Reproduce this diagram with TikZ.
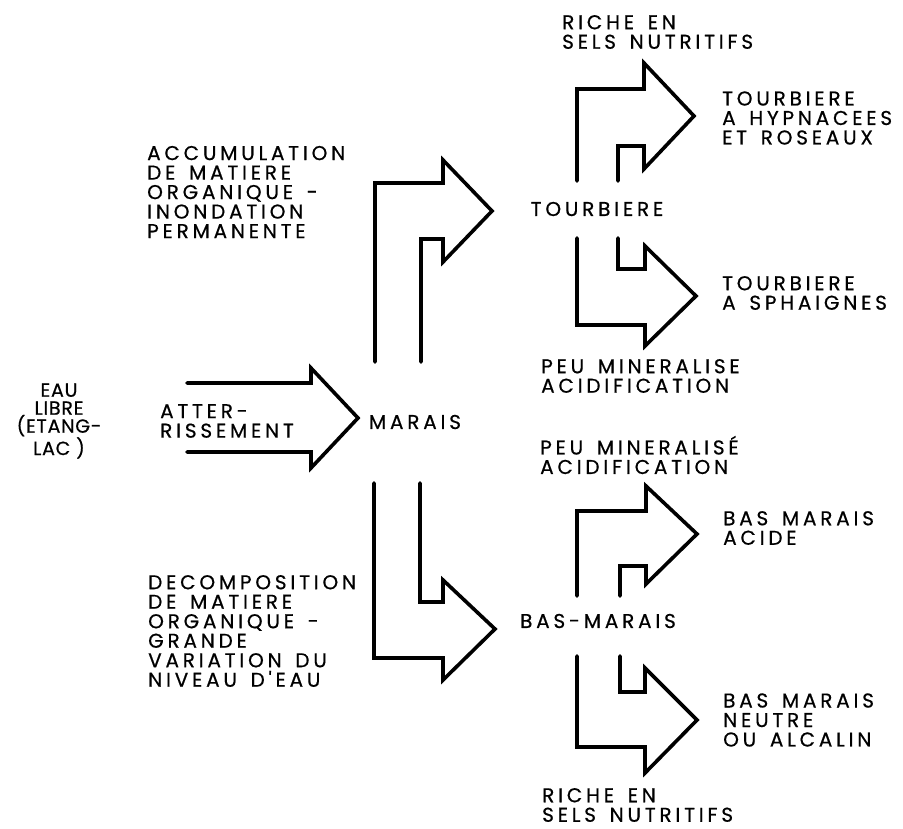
\documentclass[tikz,border=0pt]{standalone}
\usepackage{fontspec}
\usepackage{tikz}
\usetikzlibrary{positioning}
\newfontfamily\lettfont{Poppins}[LetterSpace=19,WordSpace=1.5,FakeBold=0.6]
\newfontfamily\lettnarrow{Poppins}[LetterSpace=4,FakeBold=0.6]
\newcommand{\lettering}{\lettfont\fontsize{20}{19.5}\selectfont}
\newcommand{\narrowlettering}{\lettnarrow\fontsize{19}{18}\selectfont}
\tikzset{
  lbl/.style={font=\lettering,align=left,anchor=west,inner sep=0pt},
  ctr/.style={font=\lettering,align=center,inner sep=0pt},
  fatarrow/.style={line width=3.6pt,line cap=round,line join=miter},
}
\begin{document}
\begin{tikzpicture}[x=1pt,y=-1pt]
    \useasboundingbox (0,0) rectangle (903,828);
    % Start
    \node[ctr,font=\narrowlettering] (eau) at (59,421) {EAU\\LIBRE\\(ETANG-\\LAC )};
    \node[lbl] (atter) at (160,421) {ATTER-\\RISSEMENT};
    \node[ctr] (marais) at (415,422) {MARAIS};
    \draw[fatarrow] (187,383) -- (311,383) -- (311,368) -- (358,418)
      -- (311,468) -- (311,452) -- (187,452);
    % Upper branch
    \node[lbl] (accu) at (147,192) {ACCUMULATION\\DE MATIERE\\ORGANIQUE -\\INONDATION\\PERMANENTE};
    \draw[fatarrow] (375,362) -- (375,183) -- (443,183) -- (443,160) -- (492,211)
      -- (443,262) -- (443,239) -- (421,239) -- (421,362);
    \node[ctr] (tourb) at (597,209) {TOURBIERE};
    \node[lbl] (riche1) at (562,32) {RICHE EN\\SELS NUTRITIFS};
    \draw[fatarrow] (577,181) -- (577,89) -- (644,89) -- (644,63) -- (694,116)
      -- (644,169) -- (644,146) -- (618,146) -- (618,181);
    \node[lbl] (hypn) at (722,118) {TOURBIERE\\A HYPNACEES\\ET ROSEAUX};
    \draw[fatarrow] (577,238) -- (577,325) -- (645,325) -- (645,346) -- (696,296)
      -- (645,246) -- (645,269) -- (618,269) -- (618,238);
    \node[lbl] (sphai) at (722,293) {TOURBIERE\\A SPHAIGNES};
    \node[lbl] (peu1) at (541,376) {PEU MINERALISE\\ACIDIFICATION};
    % Lower branch
    \node[lbl] (decomp) at (148,631) {DECOMPOSITION\\DE MATIERE\\ORGANIQUE -\\GRANDE\\VARIATION DU\\NIVEAU D'EAU};
    \draw[fatarrow] (374,483) -- (374,658) -- (443,658) -- (443,680) -- (495,629)
      -- (443,580) -- (443,602) -- (420,602) -- (420,483);
    \node[ctr] (basm) at (598,621) {BAS-MARAIS};
    \node[lbl] (peu2) at (540,455) {PEU MINERALISÉ\\ACIDIFICATION};
    \draw[fatarrow] (577,596) -- (577,511) -- (646,511) -- (646,486) -- (697,534)
      -- (646,584) -- (646,566) -- (620,566) -- (620,596);
    \node[lbl] (acide) at (723,528) {BAS MARAIS\\ACIDE};
    \draw[fatarrow] (577,656) -- (577,747) -- (645,747) -- (645,773) -- (697,720)
      -- (645,668) -- (645,692) -- (620,692) -- (620,656);
    \node[lbl] (neutre) at (723,720) {BAS MARAIS\\NEUTRE\\OU ALCALIN};
    \node[lbl] (riche2) at (542,805) {RICHE EN\\SELS NUTRITIFS};
\end{tikzpicture}
\end{document}
